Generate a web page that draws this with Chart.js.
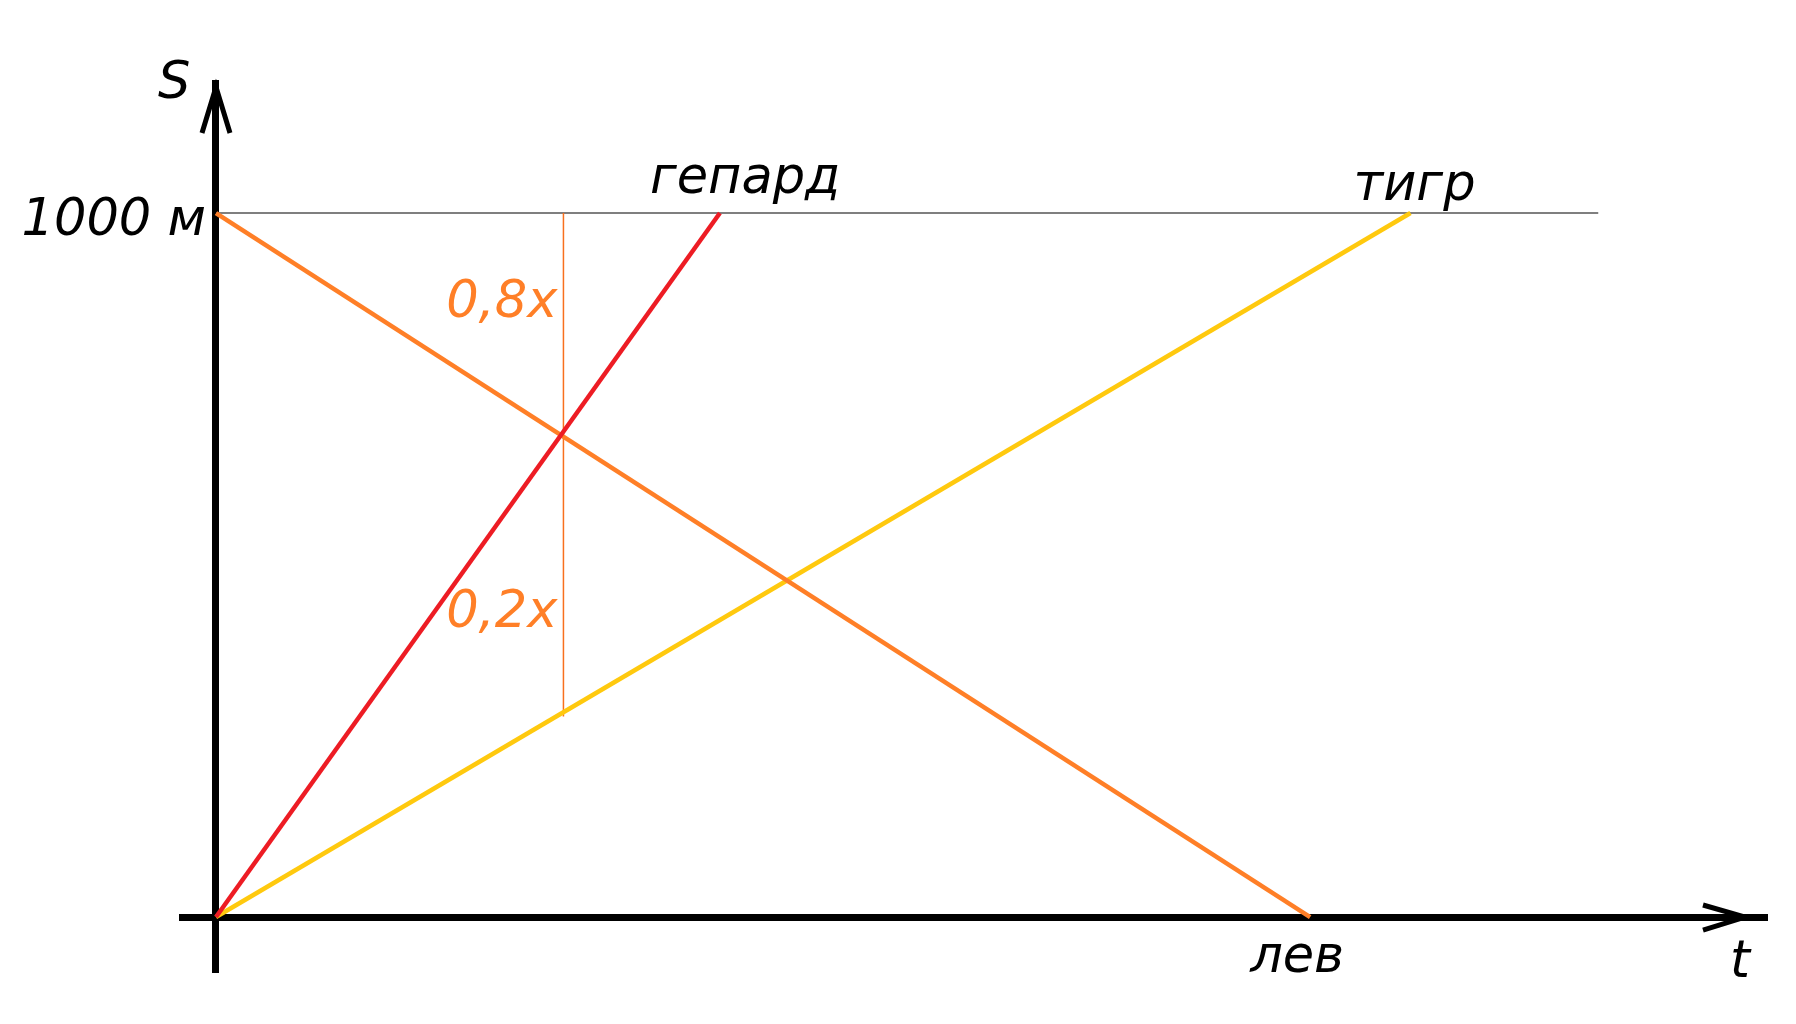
<!DOCTYPE html>
<html><head><meta charset="utf-8">
<script src="https://cdn.jsdelivr.net/npm/chart.js@4/dist/chart.umd.min.js"></script>
<style>html,body{margin:0;padding:0;background:#fff;overflow:hidden}#wrap{width:1796px;height:1024px;position:relative}</style>
</head><body><div id="wrap"><canvas id="c" width="1796" height="1024"></canvas></div>
<script>
// ---- data (time in arbitrary units, distance in metres) ----
const cheetahT = [0, 46.7];   const cheetahS = [0, 1000];
const lionT    = [0, 101.4];  const lionS    = [1000, 0];
const tigerT   = [0, 110.7];  const tigerS   = [0, 1000];
const finishT  = [0, 128.1];  const finishS  = [1000, 1000];
const markT    = [32.2, 32.2]; const markS   = [285, 1000];
const animalLabels = ['гепард', 'тигр', 'лев'];
const axisLabels   = ['S', 't', '1000 м'];
const shareLabels  = ['0,8x', '0,2x'];
const axisRangeT = [-3.15, 143.74];
const axisRangeS = [-78.1, 1184.7];

const pts = (t, s) => t.map((v, i) => ({x: v, y: s[i]}));

const RED = '#ED1C24', ORANGE = '#FF7F27', YELLOW = '#FFC90E';
const FONT = 'oblique 51px "DejaVu Sans", sans-serif';

const overlay = {
  id: 'overlay',
  afterDraw(chart) {
    const {ctx, chartArea, scales: {x, y}} = chart;
    const x0 = x.getPixelForValue(0), y0 = y.getPixelForValue(0);
    ctx.save();
    // arrowheads
    ctx.strokeStyle = '#000'; ctx.lineWidth = 5; ctx.lineCap = 'butt'; ctx.lineJoin = 'miter';
    ctx.beginPath();
    ctx.moveTo(x0 - 14, chartArea.top + 50); ctx.lineTo(x0, chartArea.top + 4); ctx.lineTo(x0 + 14, chartArea.top + 50);
    ctx.stroke();
    ctx.beginPath();
    ctx.moveTo(chartArea.right - 64, y0 - 12); ctx.lineTo(chartArea.right - 22, y0); ctx.lineTo(chartArea.right - 64, y0 + 13);
    ctx.stroke();
    // texts
    ctx.font = FONT; ctx.fillStyle = '#000'; ctx.textBaseline = 'alphabetic';
    const yTop = y.getPixelForValue(finishS[0]);
    ctx.textAlign = 'left';
    ctx.fillText(animalLabels[0], x.getPixelForValue(cheetahT[1]) - 70, yTop - 20);
    ctx.fillText(animalLabels[1], x.getPixelForValue(tigerT[1]) - 57, yTop - 13);
    ctx.fillText(animalLabels[2], x.getPixelForValue(lionT[1]) - 60, y0 + 55);
    ctx.fillText(axisLabels[0], x0 - 58, chartArea.top + 15);
    ctx.fillText(axisLabels[1], chartArea.right - 37, y0 + 60);
    ctx.textAlign = 'right';
    ctx.fillText(axisLabels[2], x0 - 10, yTop + 22);
    ctx.fillStyle = ORANGE;
    const xm = x.getPixelForValue(markT[0]);
    ctx.fillText(shareLabels[0], xm - 6, yTop + 104);
    ctx.fillText(shareLabels[1], xm - 6, y.getPixelForValue(markS[0]) - 89);
    ctx.restore();
  }
};

const axisOpts = (range, pos) => ({
  type: 'linear', min: range[0], max: range[1], position: pos,
  grid: {display: false, drawTicks: false},
  ticks: {display: false},
  border: {display: true, width: 7, color: '#000'}
});

new Chart(document.getElementById('c'), {
  type: 'scatter',
  data: {
    datasets: [
      {data: pts(cheetahT, cheetahS), borderColor: RED, borderWidth: 4.5},
      {data: pts(lionT, lionS), borderColor: ORANGE, borderWidth: 4.5},
      {data: pts(tigerT, tigerS), borderColor: YELLOW, borderWidth: 4.5},
      {data: pts(markT, markS), borderColor: '#F8701E', borderWidth: 1.5},
      {data: pts(finishT, finishS), borderColor: '#555', borderWidth: 1.5}
    ].map(d => Object.assign(d, {showLine: true, pointRadius: 0, pointHoverRadius: 0, fill: false, tension: 0, clip: false}))
  },
  options: {
    responsive: false, animation: false, devicePixelRatio: 1,
    layout: {padding: {left: 182, right: 29, top: 83, bottom: 52}},
    plugins: {legend: {display: false}, tooltip: {enabled: false}},
    events: [],
    scales: {
      x: axisOpts(axisRangeT, {y: 0}),
      y: axisOpts(axisRangeS, {x: 0})
    }
  },
  plugins: [overlay]
});
</script></body></html>
